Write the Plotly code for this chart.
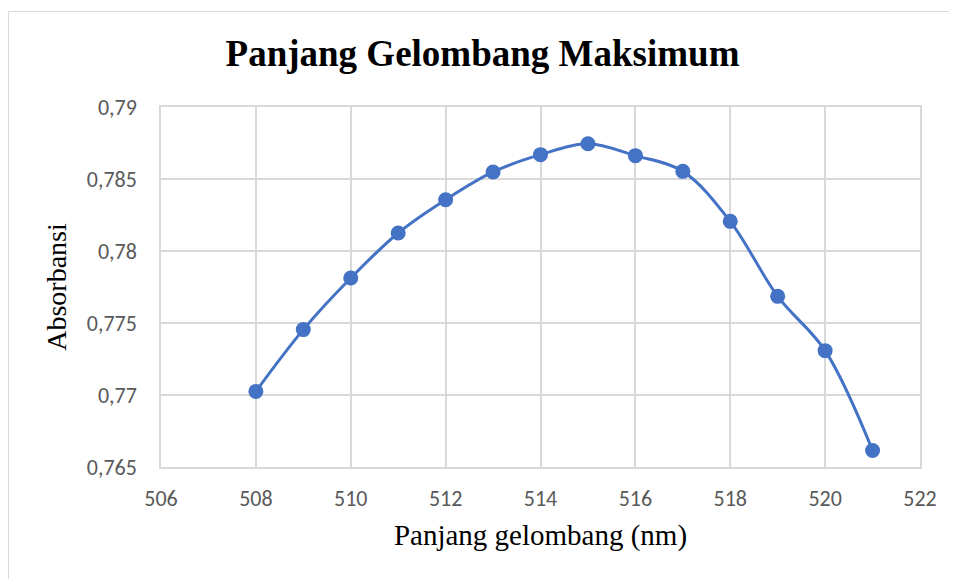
import plotly.graph_objects as go

wavelength = [508, 509, 510, 511, 512, 513, 514, 515, 516, 517, 518, 519, 520, 521]
absorbance = [0.77025, 0.77454, 0.77812, 0.78125, 0.78356, 0.78549, 0.78669,
              0.78745, 0.78662, 0.78553, 0.78206, 0.77685, 0.77308, 0.76615]

x_ticks = [506, 508, 510, 512, 514, 516, 518, 520, 522]
y_ticks = [0.765, 0.77, 0.775, 0.78, 0.785, 0.79]
y_labels = ["0,765", "0,77", "0,775", "0,78", "0,785", "0,79"]

blue = "#4472C4"
grid = "#d9d9d9"
tick_font = dict(family="Carlito, Calibri, 'Open Sans', sans-serif", size=22, color="#595959")
serif = "'Liberation Serif', 'Times New Roman', serif"

fig = go.Figure()
fig.add_trace(go.Scatter(
    x=wavelength, y=absorbance, mode="lines+markers",
    line=dict(color=blue, width=3, shape="spline", smoothing=1),
    marker=dict(color=blue, size=15),
    showlegend=False,
))

fig.update_layout(
    width=949, height=571,
    margin=dict(l=153, r=37, t=99, b=112),
    paper_bgcolor="white", plot_bgcolor="white",
    separators=",.",
    title=dict(text="<b>Panjang Gelombang Maksimum</b>", x=0.5, xanchor="center",
               y=0.921, yanchor="middle",
               font=dict(family=serif, size=37, color="black")),
    xaxis=dict(range=[506, 522], tickvals=x_ticks, ticktext=[str(t) for t in x_ticks],
               showgrid=True, gridcolor=grid, gridwidth=1.5,
               showline=True, linecolor=grid, linewidth=1.5, mirror=True,
               zeroline=False, ticks="", tickfont=tick_font, ticklabelstandoff=11,
               title=dict(text="Panjang gelombang (nm)", standoff=14,
                          font=dict(family=serif, size=29, color="black"))),
    yaxis=dict(range=[0.765, 0.79], tickvals=y_ticks, ticktext=y_labels,
               showgrid=True, gridcolor=grid, gridwidth=1.5,
               showline=True, linecolor=grid, linewidth=1.5, mirror=True,
               zeroline=False, ticks="", tickfont=tick_font, ticklabelstandoff=18,
               title=dict(text="Absorbansi", standoff=12,
                          font=dict(family=serif, size=28, color="black"))),
    shapes=[dict(type="rect", xref="paper", yref="paper",
                 x0=-0.2009, x1=1.2, y0=-0.4, y1=1.2653,
                 line=dict(color="#d9d9d9", width=1), fillcolor="rgba(0,0,0,0)",
                 layer="below")],
)

fig.write_html("out.html")
